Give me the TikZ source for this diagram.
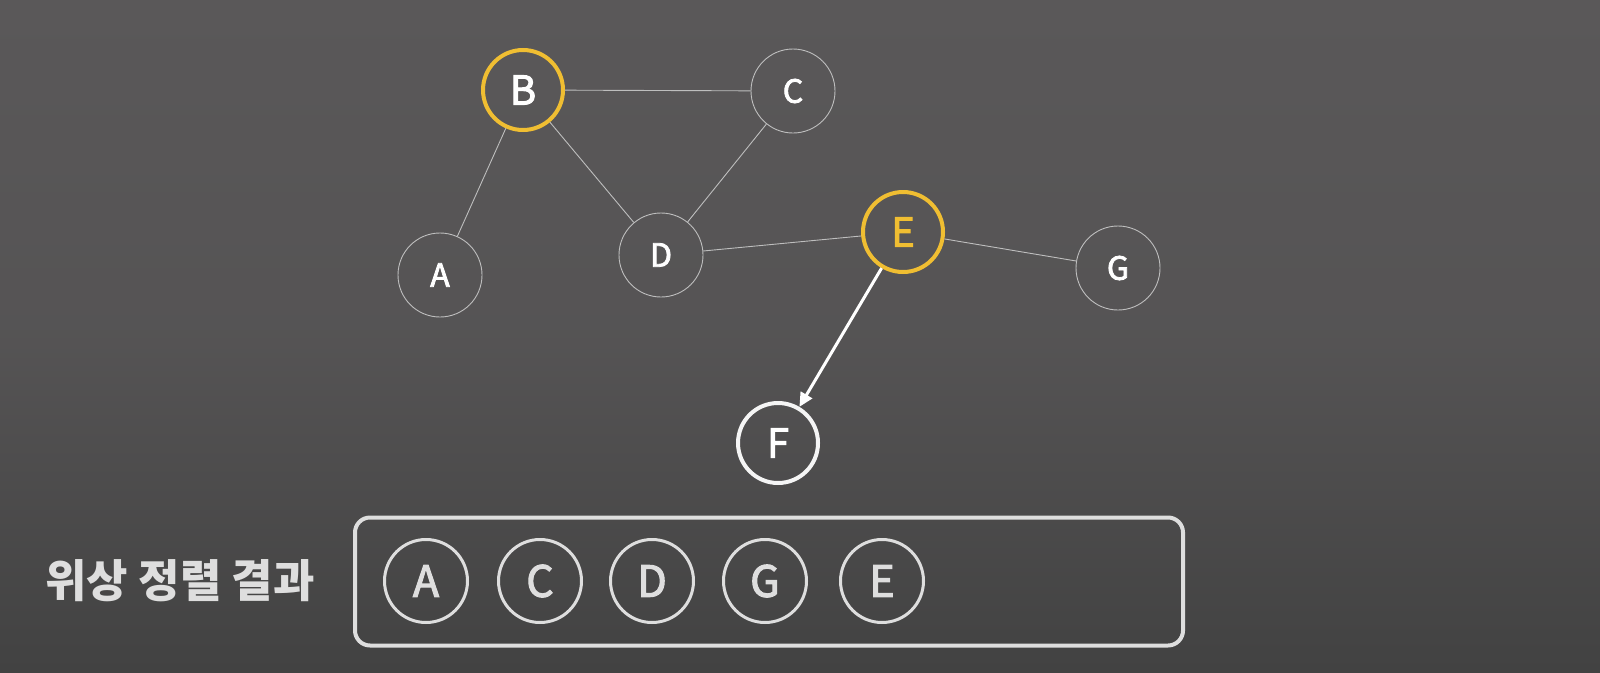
\documentclass[tikz,border=0pt]{standalone}
\usepackage{fontspec}
\setmainfont{Noto Sans CJK KR}
\newfontfamily\medfont[FakeBold=2.5]{Noto Sans CJK KR}
\usetikzlibrary{arrows.meta}
\definecolor{bgtop}{RGB}{90,88,89}
\definecolor{bgbot}{RGB}{66,66,66}
\definecolor{yel}{RGB}{240,190,50}
\definecolor{edgegray}{RGB}{190,190,190}
\definecolor{boxgray}{RGB}{222,222,222}
\tikzset{
  gnode/.style={circle, draw=edgegray, line width=0.9pt, minimum size=84pt, inner sep=0pt, text=white, font=\medfont\fontsize{32}{32}\selectfont},
  ynode/.style={circle, draw=yel, line width=4pt, minimum size=80pt, inner sep=0pt, text=white, font=\medfont\fontsize{40}{40}\selectfont},
  fnode/.style={circle, draw=white!92!gray, line width=4pt, minimum size=80pt, inner sep=0pt, text=white, font=\medfont\fontsize{40}{40}\selectfont},
  rnode/.style={circle, draw=boxgray, line width=3pt, minimum size=83pt, inner sep=0pt, text=boxgray, font=\medfont\fontsize{43}{43}\selectfont},
  edge/.style={draw=edgegray, line width=0.9pt},
}
\begin{document}
\begin{tikzpicture}[x=1pt,y=-1pt]
\shade[top color=bgtop, bottom color=bgbot, middle color=bgtop!80!bgbot] (0,0) rectangle (1600,672);
\useasboundingbox (0,0) rectangle (1600,672);
\node[ynode] (B) at (523,90) {B};
\node[gnode] (C) at (793,91) {C};
\node[gnode] (A) at (440,275) {A};
\node[gnode] (D) at (661,255) {D};
\node[ynode, text=yel] (E) at (903,232) {E};
\node[gnode] (G) at (1118,268) {G};
\node[fnode] (F) at (778,443) {F};
\draw[edge] (B) -- (C);
\draw[edge] (B) -- (A);
\draw[edge] (B) -- (D);
\draw[edge] (C) -- (D);
\draw[edge] (D) -- (E);
\draw[edge] (E) -- (G);
\draw[white, line width=3pt, -{Triangle[length=14pt,width=13pt]}] (E) -- (F);
\node[text=boxgray, font=\fontsize{45}{45}\selectfont\bfseries] (T) at (180,581) {위상 정렬 결과};
\node[draw=boxgray, line width=4pt, rounded corners=15pt, minimum width=828pt, minimum height=128pt] (box) at (769,581.5) {};
\node[rnode] (r1) at (426,581) {A};
\node[rnode] (r2) at (540,581) {C};
\node[rnode] (r3) at (652,581) {D};
\node[rnode] (r4) at (765,581) {G};
\node[rnode] (r5) at (882,581) {E};
\end{tikzpicture}
\end{document}
